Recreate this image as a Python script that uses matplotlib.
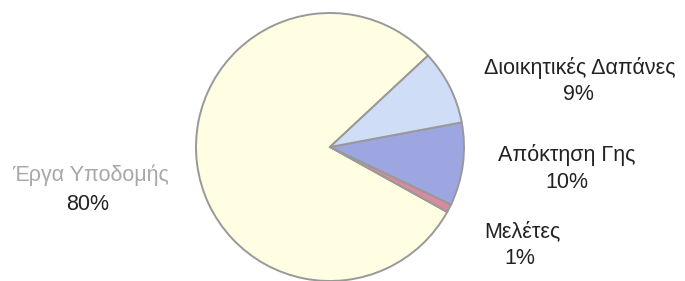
import matplotlib.pyplot as plt

# data
labels = ["Έργα Υποδομής", "Μελέτες", "Απόκτηση Γης", "Διοικητικές Δαπάνες"]
shares = [80, 1, 10, 9]
pct_labels = ["80%", "1%", "10%", "9%"]
colors = ["#FFFEE2", "#D98A9C", "#9EA6E2", "#CFDDF6"]

plt.rcParams['font.family'] = ['Liberation Sans', 'DejaVu Sans']

fig = plt.figure(figsize=(6.85, 2.81), dpi=100)
ax = fig.add_axes([0, 0, 1, 1])

ax.pie(shares, colors=colors, startangle=43, center=(330, 134), radius=134,
       wedgeprops=dict(edgecolor="#999999", linewidth=1.4))

ax.set_xlim(0, 685)
ax.set_ylim(0, 281)
ax.set_aspect("equal")
ax.axis("off")

# label positions (pixel coords, y up)
name_pos = [(91, 106), (522, 49), (567, 126), (580, 213)]
pct_pos = [(88, 76), (520, 23), (567, 99), (578, 186)]
name_colors = ["#a8a8a8", "#222222", "#222222", "#222222"]

for i in range(len(labels)):
    ax.text(name_pos[i][0], name_pos[i][1], labels[i], ha="center", va="center",
            fontsize=15.5, color=name_colors[i])
    ax.text(pct_pos[i][0], pct_pos[i][1], pct_labels[i], ha="center", va="center",
            fontsize=15.5, color="#222222")

fig.savefig("out.png", dpi=100)
